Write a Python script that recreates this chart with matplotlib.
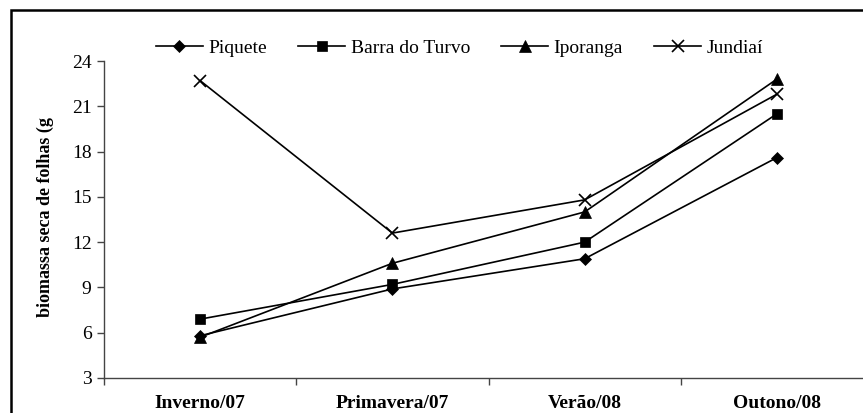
import matplotlib
matplotlib.use("Agg")
import matplotlib.pyplot as plt
from matplotlib.patches import Rectangle

# data
seasons = ["Inverno/07", "Primavera/07", "Verão/08", "Outono/08"]
piquete = [5.8, 8.9, 10.9, 17.6]
barra_do_turvo = [6.9, 9.2, 12.0, 20.5]
iporanga = [5.7, 10.6, 14.0, 22.8]
jundiai = [22.7, 12.6, 14.8, 21.8]

series_names = ["Piquete", "Barra do Turvo", "Iporanga", "Jundiaí"]
series_values = [piquete, barra_do_turvo, iporanga, jundiai]
markers = ["D", "s", "^", "x"]
marker_sizes = [6.5, 7, 8, 9]
y_ticks = [3, 6, 9, 12, 15, 18, 21, 24]

plt.rcParams["font.family"] = ["Liberation Serif", "DejaVu Serif"]

W, H = 863, 413
fig = plt.figure(figsize=(W / 100, H / 100), dpi=100)

# outer frame (right and bottom edges fall outside the picture)
fig.patches.append(Rectangle((11 / W, -0.1), 1.2, (H - 10) / H + 0.1,
                             transform=fig.transFigure, fill=False,
                             edgecolor="black", linewidth=1.8))

ax = fig.add_axes([104 / W, 35 / H, 769 / W, 317 / H])
x = range(len(seasons))
for name, vals, m, ms in zip(series_names, series_values, markers, marker_sizes):
    ax.plot(x, vals, color="black", linewidth=1.2, marker=m, markersize=ms,
            markeredgewidth=1.2 if m == "x" else 0.5, label=name)

ax.set_xlim(-0.5, 3.5)
ax.set_ylim(3, 24)
ax.set_yticks(y_ticks)
ax.set_xticks(list(x))
ax.set_xticklabels(seasons, fontsize=14, fontweight="bold")
ax.set_xticks([-0.5, 0.5, 1.5, 2.5, 3.5], minor=True)
ax.tick_params(axis="x", which="major", length=0, pad=12)
ax.tick_params(axis="x", which="minor", length=5, width=1, color="#444444")
ax.tick_params(axis="y", labelsize=14, length=5, width=1, color="#444444", pad=4)

for s in ["top", "right"]:
    ax.spines[s].set_visible(False)
for s in ["left", "bottom"]:
    ax.spines[s].set_color("#444444")
    ax.spines[s].set_linewidth(1.0)

fig.text(45 / W, (H - 317) / H, "biomassa seca de folhas (g", rotation=90,
         ha="center", va="bottom", fontsize=13, fontweight="bold")

fig.legend(loc="center left", bbox_to_anchor=(156 / W, (H - 48) / H), ncol=4,
           frameon=False, fontsize=14, handlelength=2.4, handletextpad=0.3,
           columnspacing=1.6, borderpad=0, borderaxespad=0)

fig.savefig("out.png", dpi=100, facecolor="white")
